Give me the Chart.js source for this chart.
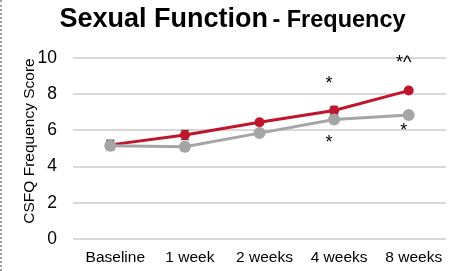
<!DOCTYPE html>
<html>
<head>
<meta charset="utf-8">
<script src="https://cdn.jsdelivr.net/npm/chart.js@4/dist/chart.umd.min.js"></script>
<style>
  html, body { margin: 0; padding: 0; background: #fff; }
  #wrap { position: relative; width: 461px; height: 271px; }
  #edge { position: absolute; left: 0; top: 0; width: 0; height: 271px; border-left: 2px dotted #a0a0a0; }
  #title { position: absolute; left: 0; top: 3px; width: 461px; text-align: center; padding-left: 4px; box-sizing: border-box;
           font-family: "Liberation Sans", Arial, sans-serif; font-weight: bold; color: #000; white-space: nowrap; }
  #title .big { font-size: 27px; }
  #title .small { font-size: 23.5px; }
  canvas { position: absolute; left: 0; top: 0; }
</style>
</head>
<body>
<div id="wrap">
  <canvas id="lineChart" width="461" height="271"></canvas>
  <div id="edge"></div>
  <div id="title"><span class="big">Sexual Function</span> <span class="small">- Frequency</span></div>
</div>
<script>
var categories = ["Baseline", "1 week", "2 weeks", "4 weeks", "8 weeks"];
var redValues  = [5.2, 5.75, 6.45, 7.1, 8.2];
var redErrors  = [0.25, 0.25, 0.12, 0.22, 0.12];
var grayValues = [5.15, 5.1, 5.85, 6.6, 6.85];
var grayErrors = [0.22, 0.22, 0.15, 0.15, 0.12];
var markIndex  = [3, 4, 3, 4];
var markValue  = [8.56, 9.72, 5.3, 5.97];
var markText   = ["*", "*^", "*", "*"];
var yTitle     = "CSFQ Frequency Score";

var errorBars = {
    id: 'errorBars',
    beforeDatasetsDraw: function (chart) {
        var ctx = chart.ctx;
        var y = chart.scales.y;
        ctx.save();
        ctx.strokeStyle = "#595959";
        ctx.lineWidth = 1.5;
        chart.data.datasets.forEach(function (ds, i) {
            var meta = chart.getDatasetMeta(i);
            meta.data.forEach(function (pt, j) {
                var v = ds.data[j], e = ds.errors[j];
                var top = y.getPixelForValue(v + e), bot = y.getPixelForValue(v - e);
                ctx.beginPath();
                ctx.moveTo(pt.x, top); ctx.lineTo(pt.x, bot);
                ctx.moveTo(pt.x - 4, top); ctx.lineTo(pt.x + 4, top);
                ctx.moveTo(pt.x - 4, bot); ctx.lineTo(pt.x + 4, bot);
                ctx.stroke();
            });
        });
        ctx.restore();
    }
};

// asterisks and the y axis title (sits a bit above the plot centre in the original)
var marks = {
    id: 'marks',
    afterDatasetsDraw: function (chart) {
        var ctx = chart.ctx;
        ctx.save();
        ctx.fillStyle = "#000";
        ctx.font = "18px 'Liberation Sans', Arial, sans-serif";
        ctx.textAlign = "center";
        ctx.textBaseline = "middle";
        for (var i = 0; i < markText.length; i++) {
            var x = chart.scales.x.getPixelForValue(markIndex[i]);
            var yy = chart.scales.y.getPixelForValue(markValue[i]);
            ctx.fillText(markText[i], x - 5, yy);
        }
        ctx.translate(30, chart.chartArea.top + 83);
        ctx.rotate(-Math.PI / 2);
        ctx.font = "15.5px 'Liberation Sans', Arial, sans-serif";
        ctx.fillText(yTitle, 0, 0);
        ctx.restore();
    }
};

var lineData = {
    labels: categories,
    datasets: [{
        data: grayValues,
        errors: grayErrors,
        borderColor: "#a5a5a5",
        backgroundColor: "#a5a5a5",
        borderWidth: 3,
        pointRadius: 4.5,
        pointHoverRadius: 4.5
    }, {
        data: redValues,
        errors: redErrors,
        borderColor: "#c0162b",
        backgroundColor: "#c0162b",
        borderWidth: 3,
        pointRadius: 3.5,
        pointHoverRadius: 3.5
    }]
};

var lineOptions = {
    responsive: false,
    animation: false,
    layout: { padding: { left: 16, right: 15, top: 58, bottom: 0 } },
    plugins: { legend: { display: false }, title: { display: false }, tooltip: { enabled: false } },
    scales: {
        x: {
            offset: true,
            grid: { display: false, drawTicks: false },
            border: { display: false },
            ticks: { color: "#000", font: { family: "'Liberation Sans', Arial, sans-serif", size: 15.5 }, padding: 9,
                     maxRotation: 0, autoSkip: false, labelOffset: 5 },
            afterFit: function (s) { s.height = 32; }
        },
        y: {
            min: 0, max: 10,
            grid: {
                drawTicks: false,
                lineWidth: 2,
                color: function (c) { return (c.tick && c.tick.value % 2 === 0) ? "#d9d9d9" : "#f2f2f2"; }
            },
            border: { display: false },
            ticks: {
                stepSize: 1,
                color: "#000",
                padding: 16,
                font: { family: "'Liberation Sans', Arial, sans-serif", size: 17.5 },
                callback: function (v) { return v % 2 === 0 ? v : ""; }
            },
            afterFit: function (s) { s.width = 57; }
        }
    }
};

var ctx = document.getElementById("lineChart").getContext("2d");
new Chart(ctx, { type: 'line', data: lineData, options: lineOptions, plugins: [errorBars, marks] });
</script>
</body>
</html>
